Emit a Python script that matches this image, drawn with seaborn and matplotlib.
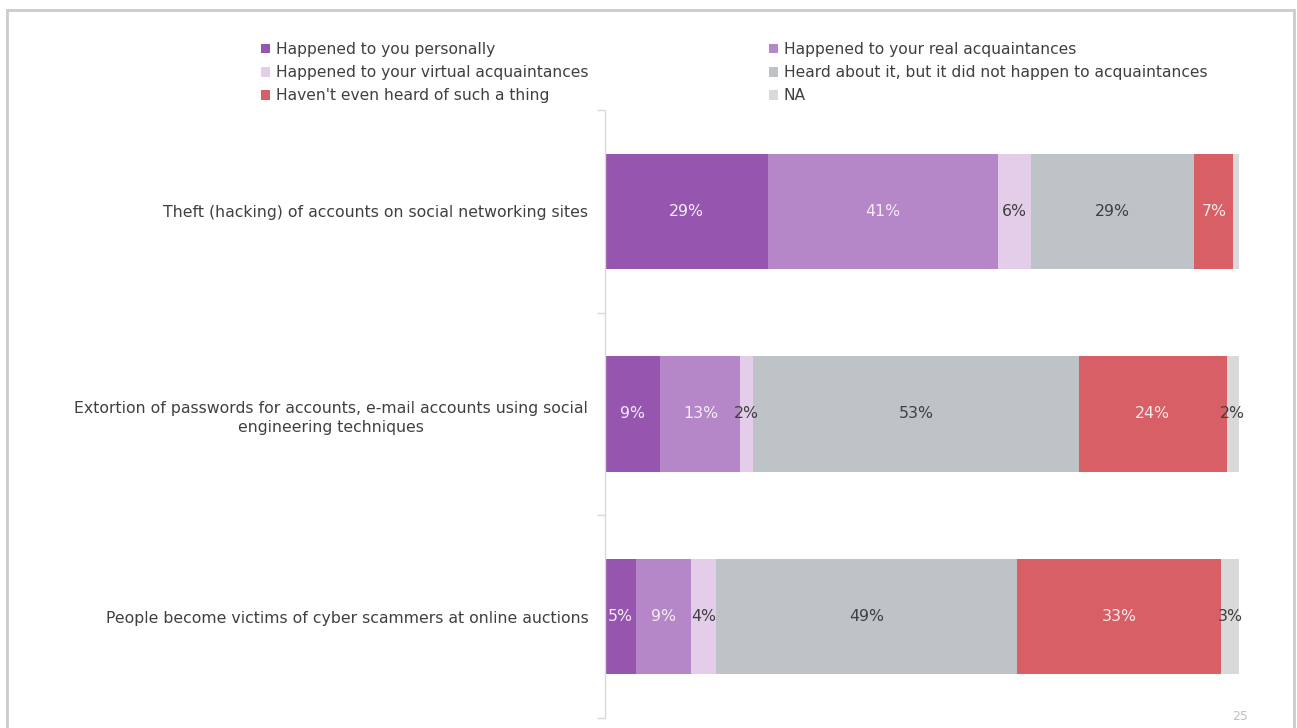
import numpy as np
import pandas as pd
import matplotlib
matplotlib.use("Agg")
import matplotlib.pyplot as plt
from matplotlib.patches import Patch, Rectangle
import seaborn as sns

categories = [
    "Theft (hacking) of accounts on social networking sites",
    "Extortion of passwords for accounts, e-mail accounts using social\nengineering techniques",
    "People become victims of cyber scammers at online auctions",
]
series = [
    "Happened to you personally",
    "Happened to your real acquaintances",
    "Happened to your virtual acquaintances",
    "Heard about it, but it did not happen to acquaintances",
    "Haven't even heard of such a thing",
    "NA",
]
personally = [29, 9, 5]
real_acq = [41, 13, 9]
virtual_acq = [6, 2, 4]
heard = [29, 53, 49]
never_heard = [7, 24, 33]
na = [1, 2, 3]

colors = ["#9656B0", "#B587C8", "#E3CDE9", "#BDC3C7", "#D95F67", "#D9D9D9"]
label_colors = ["#F4ECF7", "#F4ECF7", "#404040", "#404040", "#F8E8E8", "#404040"]

sns.set_theme(style="white")
plt.rcParams["font.family"] = ["DejaVu Sans"]

values = np.array([personally, real_acq, virtual_acq, heard, never_heard, na], dtype=float)
totals = values.sum(axis=0)
shares = values / totals
cum = np.cumsum(shares, axis=0)

fig = plt.figure(figsize=(12.97, 7.28), dpi=100)
ax = fig.add_axes([605 / 1297, 1 - 718 / 728, (1239 - 605) / 1297, (718 - 110) / 728])

for i in range(len(series) - 1, -1, -1):
    df = pd.DataFrame({"cat": categories, "val": cum[i]})
    sns.barplot(data=df, x="val", y="cat", orient="h", color=colors[i],
                saturation=1, width=0.57, linewidth=0, ax=ax)

for i in range(len(series)):
    for j in range(len(categories)):
        v = values[i, j]
        if v < 2:
            continue
        left = cum[i, j] - shares[i, j]
        xc = left + shares[i, j] / 2
        ax.text(xc, j, f"{int(v)}%", ha="center", va="center",
                fontsize=11.3, color=label_colors[i])

ax.set_xlim(0, 1)
ax.set_ylim(2.5, -0.5)
ax.set_xlabel("")
ax.set_ylabel("")
ax.set_xticks([])
for s in ["top", "right", "bottom"]:
    ax.spines[s].set_visible(False)
ax.spines["left"].set_color("#D9D9D9")
ax.spines["left"].set_linewidth(1)
ax.set_yticks([-0.5, 0.5, 1.5, 2.5], minor=True)
ax.tick_params(axis="y", which="minor", length=6, color="#D9D9D9", width=1, left=True)
ax.tick_params(axis="y", which="major", length=0, pad=12, labelsize=11.3, labelcolor="#404040")
for lbl in ax.get_yticklabels():
    lbl.set_multialignment("center")
    lbl.set_linespacing(1.35)

handles = [Patch(facecolor=c, edgecolor="none") for c in colors]
leg_kw = dict(frameon=False, fontsize=11.2, handlelength=0.6, handleheight=0.6,
              handletextpad=0.35, labelspacing=0.52, borderaxespad=0, borderpad=0,
              labelcolor="#404040")
fig.legend([handles[k] for k in (0, 2, 4)], [series[k] for k in (0, 2, 4)],
           loc="upper left", bbox_to_anchor=(261 / 1297, 1 - 42 / 728), **leg_kw)
fig.legend([handles[k] for k in (1, 3, 5)], [series[k] for k in (1, 3, 5)],
           loc="upper left", bbox_to_anchor=(769 / 1297, 1 - 42 / 728), **leg_kw)

fig.text(1240 / 1297, 1 - 717 / 728, "25", fontsize=9, color="#C0C0C0",
         ha="center", va="center")
fig.add_artist(Rectangle((7 / 1297, -0.1), (1294 - 7) / 1297, 1.1 - 10 / 728,
                         transform=fig.transFigure, fill=False,
                         edgecolor="#C8CCCF", linewidth=2))

fig.savefig("out.png", dpi=100, facecolor="white")
